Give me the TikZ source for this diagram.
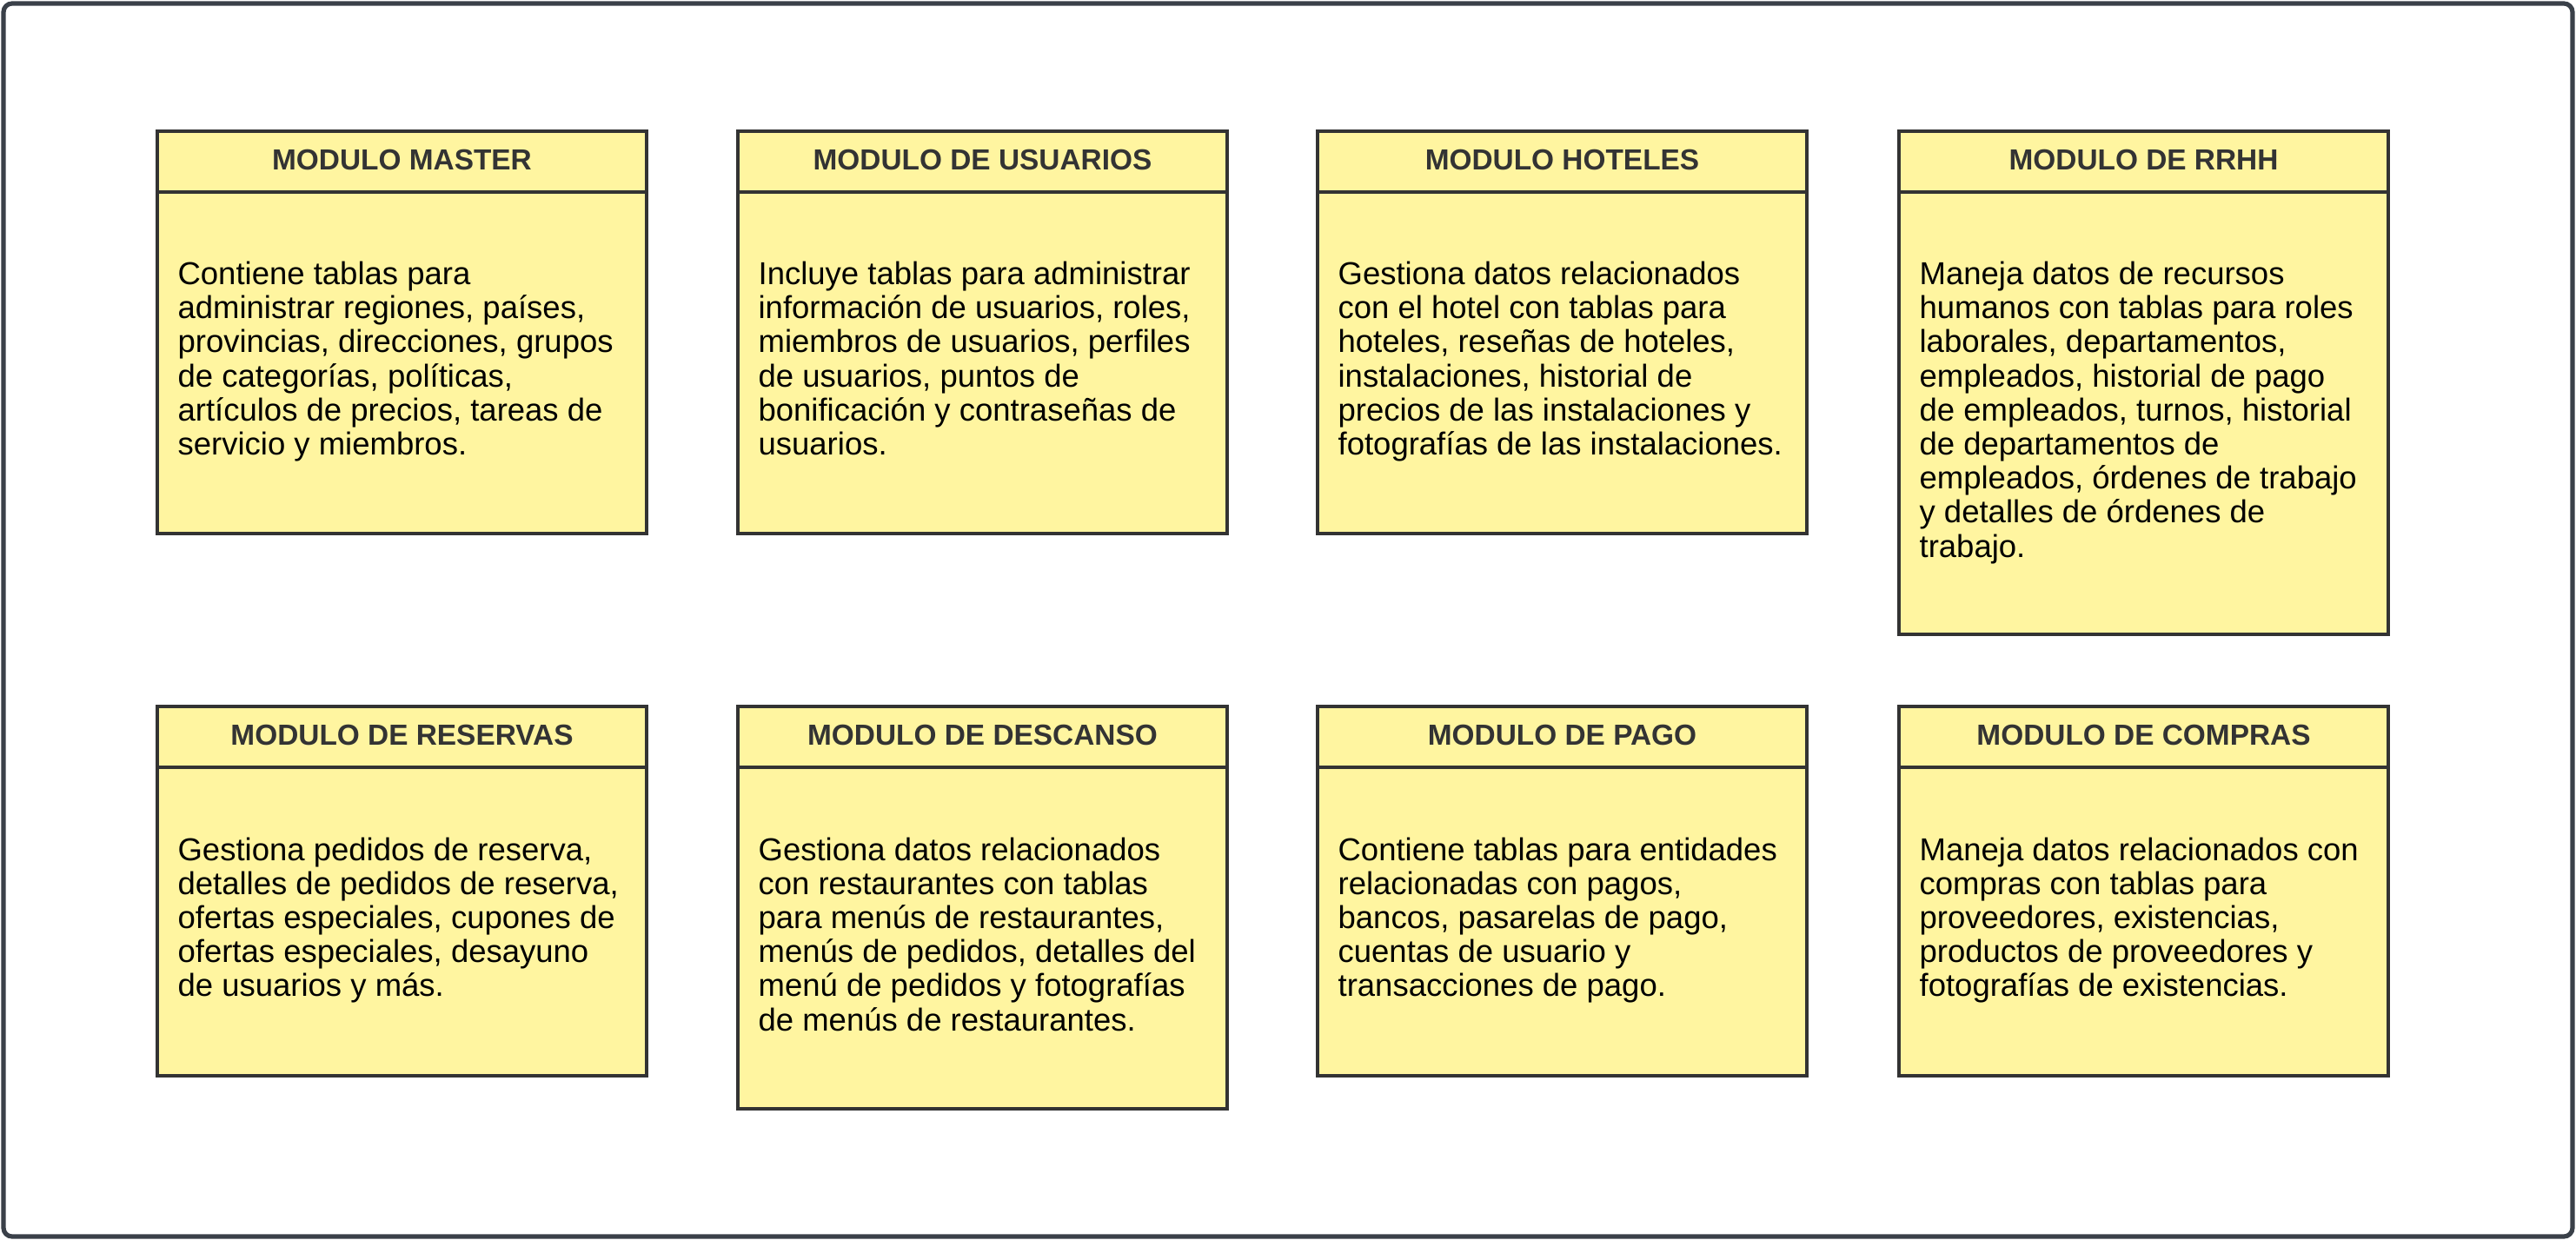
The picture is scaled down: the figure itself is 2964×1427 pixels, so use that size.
\documentclass[tikz,border=0pt]{standalone}
\usepackage{fontspec}
\setmainfont{Liberation Sans}
\definecolor{fillY}{HTML}{FFF5A0}
\definecolor{edgeC}{HTML}{333333}
\definecolor{frameC}{HTML}{3A4049}
\definecolor{titleC}{HTML}{333333}
\tikzset{
  modbox/.style={draw=edgeC, fill=fillY, line width=2pt, rectangle, inner sep=0pt, outer sep=0pt, anchor=north west},
  headline/.style={draw=edgeC, line width=2pt},
  modtitle/.style={text=titleC, font=\fontsize{16.7}{19}\selectfont\bfseries, inner sep=0pt, anchor=center},
  modbody/.style={text=black, font=\fontsize{18.25}{19.6}\selectfont, inner sep=0pt, anchor=base west},
}
\newcommand{\mymodule}[7]{%
  % #1 name, #2 x, #3 ytop, #4 height(px), #5 title, #6 body, #7 baseline offset (pt)
  \node[modbox, minimum width=563*0.5pt, minimum height=#4*0.5pt] (#1) at (#2,#3) {};
  \draw[headline] ([yshift=-35pt]#1.north west) -- ([yshift=-35pt]#1.north east);
  \node[modtitle] (#1-t) at ([yshift=-16.5pt]#1.north) {#5};
  \node[modbody] (#1-b) at ([xshift=11.6pt, yshift=-#7pt]#1.north west)
    {\parbox[t]{270pt}{\raggedright #6}};
}
\begin{document}
\begin{tikzpicture}[x=0.5pt,y=-0.5pt]
\useasboundingbox (0,0) rectangle (2964,1427);
\draw[frameC, line width=2.6pt, rounded corners=5pt] (4,4) rectangle (2960,1423);

\mymodule{master}{181}{151}{463}{MODULO MASTER}{Contiene tablas para\\administrar regiones, países,\\provincias, direcciones, grupos\\de categorías, políticas,\\artículos de precios, tareas de\\servicio y miembros.}{88.3}
\mymodule{usuarios}{849}{151}{463}{MODULO DE USUARIOS}{Incluye tablas para administrar\\información de usuarios, roles,\\miembros de usuarios, perfiles\\de usuarios, puntos de\\bonificación y contraseñas de\\usuarios.}{88.3}
\mymodule{hoteles}{1516}{151}{463}{MODULO HOTELES}{Gestiona datos relacionados\\con el hotel con tablas para\\hoteles, reseñas de hoteles,\\instalaciones, historial de\\precios de las instalaciones y\\fotografías de las instalaciones.}{88.3}
\mymodule{rrhh}{2185}{151}{579}{MODULO DE RRHH}{Maneja datos de recursos\\humanos con tablas para roles\\laborales, departamentos,\\empleados, historial de pago\\de empleados, turnos, historial\\de departamentos de\\empleados, órdenes de trabajo\\y detalles de órdenes de\\trabajo.}{88.3}

\mymodule{reservas}{181}{813}{425}{MODULO DE RESERVAS}{Gestiona pedidos de reserva,\\detalles de pedidos de reserva,\\ofertas especiales, cupones de\\ofertas especiales, desayuno\\de usuarios y más.}{88.5}
\mymodule{descanso}{849}{813}{463}{MODULO DE DESCANSO}{Gestiona datos relacionados\\con restaurantes con tablas\\para menús de restaurantes,\\menús de pedidos, detalles del\\menú de pedidos y fotografías\\de menús de restaurantes.}{88.5}
\mymodule{pago}{1516}{813}{425}{MODULO DE PAGO}{Contiene tablas para entidades\\relacionadas con pagos,\\bancos, pasarelas de pago,\\cuentas de usuario y\\transacciones de pago.}{88.5}
\mymodule{compras}{2185}{813}{425}{MODULO DE COMPRAS}{Maneja datos relacionados con\\compras con tablas para\\proveedores, existencias,\\productos de proveedores y\\fotografías de existencias.}{88.5}
\end{tikzpicture}
\end{document}
